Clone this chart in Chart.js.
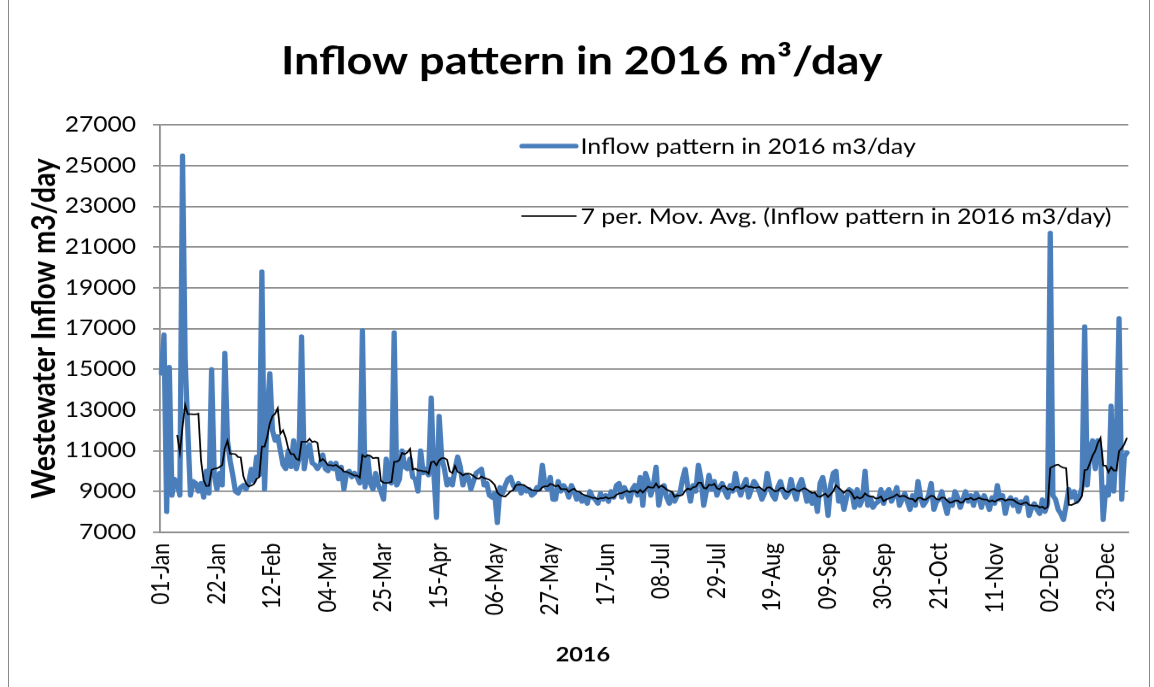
<!DOCTYPE html>
<html>
<head>
<meta charset="utf-8">
<title>Inflow pattern in 2016</title>
<script src="https://cdn.jsdelivr.net/npm/chart.js@4.4.1/dist/chart.umd.min.js"></script>
<style>
  html, body { margin: 0; padding: 0; background: #fff; overflow: hidden; }
  #frame { position: absolute; left: 8px; top: -2px; width: 1142px; height: 700px; border: 1px solid #8a8a8a; box-sizing: border-box; }
  /* the original picture is stretched sideways, so the chart is drawn narrower and widened */
  #wrap { position: absolute; left: 0; top: 0; width: 986px; height: 687px; transform: scaleX(1.1704); transform-origin: 0 0; }
</style>
</head>
<body>
<div id="frame"></div>
<div id="wrap"><canvas id="inflowChart"></canvas></div>
<script>
// daily inflow in m3/day (2016 is a leap year)
const jan = [14800, 16700, 8000, 15100, 8800, 9600, 9400, 8800, 25500, 15500,
  12000, 8800, 9500, 9400, 9000, 9400, 8700, 10000, 8900, 15000,
  9800, 9100, 9900, 9300, 15800, 11500, 10500, 9800, 9000, 8900, 9200];
const feb = [9300, 9100, 9400, 10100, 9500, 10700, 9800, 19800, 9100, 12700,
  14800, 12000, 11500, 11700, 11000, 10300, 10100, 11000, 10200, 11500,
  10100, 10600, 16600, 10100, 10900, 11300, 10400, 10300, 10100];
const mar = [10300, 10800, 10100, 10000, 10400, 10100, 10400, 9600, 10200, 9100,
  9900, 10000, 9700, 9900, 9700, 9400, 16900, 9200, 10700, 9400,
  9100, 9900, 9300, 9000, 8600, 10600, 9500, 9400, 16800, 9300, 9600];
const apr = [11000, 10200, 10100, 10600, 9700, 9600, 9000, 11000, 9900, 10100,
  9800, 13600, 9900, 7700, 12700, 10600, 10100, 9300, 9600, 9300,
  10100, 10700, 10200, 9300, 9800, 9700, 9100, 9500, 9900, 10000];
const may = [10100, 9300, 9400, 8800, 8700, 8900, 7450, 9200, 8900, 9300,
  9600, 9700, 9300, 9100, 9400, 8900, 9200, 9000, 9100, 8800,
  8900, 9200, 9100, 10300, 9300, 9100, 9700, 8600, 8600, 9500, 9000];
const jun = [9300, 9100, 8700, 9300, 9000, 8600, 8900, 8500, 8700, 8400,
  9000, 8700, 8600, 8400, 8900, 8600, 8800, 8500, 9000, 8700,
  9300, 9400, 8700, 9200, 8900, 8500, 9100, 9300, 8800, 9700];
const jul = [8300, 9900, 9500, 8800, 9300, 10200, 8300, 9000, 9300, 8700,
  8400, 8900, 8500, 8800, 8900, 9600, 10100, 9200, 8500, 9300,
  9000, 10300, 9600, 8300, 9000, 9800, 9100, 9500, 8800, 9200, 9400];
const aug = [9000, 8700, 9300, 9000, 9900, 9200, 8800, 9300, 9600, 8700,
  9100, 9500, 9300, 9000, 8600, 8900, 9900, 9200, 8800, 8600,
  9200, 9500, 9000, 8700, 8900, 9600, 9000, 8600, 9300, 9600, 9100];
const sep = [8500, 8900, 8400, 8800, 8000, 9400, 9700, 9000, 7800, 9300,
  9900, 10000, 8500, 8900, 8100, 8700, 9100, 9000, 8200, 9100,
  8300, 8600, 10000, 8300, 8700, 8200, 8400, 8500, 9100, 8400];
const oct = [8900, 9100, 8500, 8800, 9200, 8300, 8600, 8900, 8500, 8100,
  8800, 8300, 9500, 8700, 8300, 8500, 8800, 9400, 8100, 8500,
  8600, 9000, 8400, 7900, 8600, 8300, 9000, 8700, 8200, 8600, 9000];
const nov = [8500, 8800, 8300, 8900, 8700, 8200, 8800, 8500, 8100, 8700,
  8400, 9300, 8600, 8800, 7900, 8500, 8700, 8300, 8600, 8000,
  8500, 8400, 8700, 7800, 8200, 8400, 8100, 7900, 8600, 8000];
const dec = [8400, 21700, 8800, 8600, 8100, 7900, 7600, 8300, 9100, 8700,
  9000, 8500, 8700, 9200, 17100, 9300, 11000, 11500, 10100, 11500,
  10900, 7600, 9200, 8800, 13200, 9000, 11500, 17500, 8600, 10700, 10900];

const inflow = [].concat(jan, feb, mar, apr, may, jun, jul, aug, sep, oct, nov, dec);

const monthNames = ['Jan', 'Feb', 'Mar', 'Apr', 'May', 'Jun', 'Jul', 'Aug', 'Sep', 'Oct', 'Nov', 'Dec'];
const monthDays = [31, 29, 31, 30, 31, 30, 31, 31, 30, 31, 30, 31];
const tickLabels = ['01-Jan', '22-Jan', '12-Feb', '04-Mar', '25-Mar', '15-Apr', '06-May', '27-May', '17-Jun',
  '08-Jul', '29-Jul', '19-Aug', '09-Sep', '30-Sep', '21-Oct', '11-Nov', '02-Dec', '23-Dec'];

// one category per day, dd-Mon
const days = [];
monthDays.forEach((n, m) => {
  for (let d = 1; d <= n; d++) days.push(String(d).padStart(2, '0') + '-' + monthNames[m]);
});

// Excel style 7 period moving average trendline
const movAvg = inflow.map((v, i) => {
  if (i < 6) return null;
  let sum = 0;
  for (let k = i - 6; k <= i; k++) sum += inflow[k];
  return sum / 7;
});

const blue = '#4a7ebb';
const grey = '#8a8a8a';

// Excel centres the titles on the whole chart, and the legend sits inside the plot
const chartText = {
  id: 'chartText',
  afterDraw(chart) {
    const ctx = chart.ctx;
    const rows = [
      { ds: chart.data.datasets[1], y: 146 },
      { ds: chart.data.datasets[0], y: 216 }
    ];
    ctx.save();
    ctx.fillStyle = '#000';
    ctx.textBaseline = 'middle';
    ctx.textAlign = 'center';
    ctx.font = 'bold 38.5px Lato';
    ctx.fillText('Inflow pattern in 2016 m³/day', 497, 62);
    ctx.font = 'bold 20px Lato';
    ctx.fillText('2016', 498, 655);

    ctx.font = '21.3px Lato';
    ctx.textAlign = 'left';
    rows.forEach(r => {
      ctx.strokeStyle = r.ds.borderColor;
      ctx.lineWidth = r.ds.borderWidth;
      ctx.lineCap = 'round';
      ctx.beginPath();
      ctx.moveTo(446, r.y);
      ctx.lineTo(492, r.y);
      ctx.stroke();
      ctx.fillText(r.ds.label, 496, r.y + 1);
    });
    ctx.restore();
  }
};

const ctx = document.getElementById('inflowChart').getContext('2d');
new Chart(ctx, {
  type: 'line',
  data: {
    labels: days,
    datasets: [{
      label: '7 per. Mov. Avg. (Inflow pattern in 2016 m3/day)',
      data: movAvg,
      borderColor: '#000',
      borderWidth: 1.5,
      pointRadius: 0,
      fill: false,
      order: 0
    }, {
      label: 'Inflow pattern in 2016 m3/day',
      data: inflow,
      borderColor: blue,
      borderWidth: 4.5,
      borderJoinStyle: 'round',
      borderCapStyle: 'round',
      pointRadius: 0,
      fill: false,
      order: 1
    }]
  },
  options: {
    responsive: true,
    maintainAspectRatio: false,
    animation: false,
    devicePixelRatio: 1.1704,
    layout: { padding: { left: 0, right: 22, top: 125, bottom: 0 } },
    plugins: {
      legend: { display: false },
      tooltip: { enabled: false },
      title: { display: false }
    },
    scales: {
      x: {
        offset: true,
        afterFit(scale) { scale.height = 155; },
        grid: { display: false, drawTicks: false },
        border: { display: true, color: grey, width: 1.5 },
        ticks: {
          autoSkip: false,
          maxRotation: 90,
          minRotation: 90,
          padding: 11,
          color: '#000',
          font: { family: 'Lato', size: 21 },
          callback(val) {
            const lab = this.getLabelForValue(val);
            return tickLabels.includes(lab) ? lab : null;
          }
        }
      },
      y: {
        min: 7000,
        max: 27000,
        afterFit(scale) { scale.width = 136.7; },
        grid: { color: grey, lineWidth: 1.5, tickLength: 6 },
        border: { display: true, color: grey, width: 1.5 },
        ticks: {
          stepSize: 2000,
          padding: 14.5,
          color: '#000',
          font: { family: 'Lato', size: 21 },
          callback: v => String(v)
        },
        title: {
          display: true,
          text: 'Westewater Inflow m3/day',
          color: '#000',
          font: { family: 'Lato', size: 28, weight: 'bold' },
          padding: { top: 21, bottom: 0 }
        }
      }
    }
  },
  plugins: [chartText]
});
</script>
</body>
</html>
